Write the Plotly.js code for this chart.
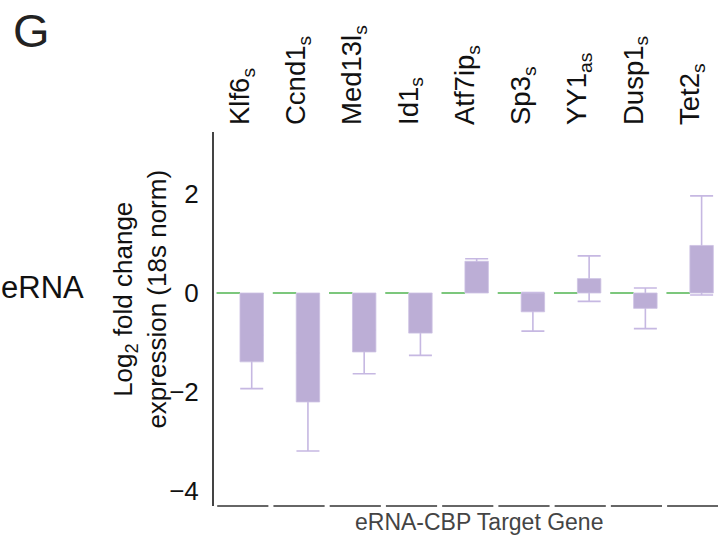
<!DOCTYPE html>
<html>
<head>
<meta charset="utf-8">
<script src="https://cdn.plot.ly/plotly-3.0.1.min.js"></script>
<style>html,body{margin:0;padding:0;background:#fff;}#chart{width:720px;height:535px;}</style>
</head>
<body>
<div id="chart"></div>
<script>
// ---- data ----
const genes = ['Klf6', 'Ccnd1', 'Med13l', 'Id1', 'Atf7ip', 'Sp3', 'YY1', 'Dusp1', 'Tet2'];
const strand = ['s', 's', 's', 's', 's', 's', 'as', 's', 's'];
const logFC = [-1.39, -2.20, -1.19, -0.81, 0.64, -0.38, 0.29, -0.31, 0.96];
const sem = [0.54, 0.99, 0.44, 0.45, 0.05, 0.39, 0.46, 0.41, 1.00];
const control = [0, 0, 0, 0, 0, 0, 0, 0, 0];
const yTicks = [-4, -2, 0, 2];

// ---- styles ----
const FONT = 'Liberation Sans, Arial, Helvetica, sans-serif';
const PURPLE = '#bcaed6';
const ERR = '#c6b8e2';
const GREEN = '#7cc77c';
const lineThick = 0.04;

const tickText = genes.map((g, i) => g + '<sub>' + strand[i] + '</sub>');

const traces = [
  {
    type: 'bar', x: genes, y: control.map(() => lineThick),
    base: control.map(v => v - lineThick / 2),
    offsetgroup: 'ctrl', marker: {color: GREEN, line: {width: 0}},
    hoverinfo: 'skip', showlegend: false
  },
  {
    type: 'bar', x: genes, y: logFC, offsetgroup: 'trt',
    marker: {color: 'rgba(0,0,0,0)', line: {width: 0}},
    error_y: {type: 'data', array: sem, visible: true, color: ERR, thickness: 1.6, width: 11.5},
    hoverinfo: 'skip', showlegend: false
  },
  {
    type: 'bar', x: genes, y: logFC, offsetgroup: 'trt',
    marker: {color: PURPLE, line: {width: 0.8, color: '#cdc1e3'}},
    showlegend: false
  }
];

// per-category baseline segments under the plot
const shapes = genes.map((g, i) => ({
  type: 'line', xref: 'x', yref: 'paper',
  x0: i - 0.405, x1: i + 0.505, y0: 0, y1: 0,
  line: {color: '#333', width: 1.5}
}));

const layout = {
  width: 720, height: 535,
  margin: {l: 214, r: 2, t: 132, b: 29},
  paper_bgcolor: '#fff', plot_bgcolor: '#fff',
  barmode: 'group', bargap: 0.166, bargroupgap: 0,
  showlegend: false,
  font: {family: FONT, color: '#111', size: 26},
  xaxis: {
    side: 'top', type: 'category',
    range: [-0.462, 8.5],
    tickvals: genes, ticktext: tickText,
    tickangle: -90, ticks: '', showline: false, showgrid: false, zeroline: false,
    tickfont: {family: FONT, size: 27.5, color: '#111'},
    ticklabelstandoff: 6
  },
  yaxis: {
    range: [-4.30, 3.25],
    tickvals: yTicks, ticktext: yTicks.map(v => (v < 0 ? '\u2212' + Math.abs(v) : String(v))),
    ticks: '', showgrid: false, zeroline: false,
    showline: true, linecolor: '#444', linewidth: 2,
    tickfont: {family: FONT, size: 26, color: '#111'},
    ticklabelstandoff: 8
  },
  shapes: shapes,
  annotations: [
    {text: 'G', xref: 'paper', yref: 'paper', x: -0.362, y: 1.272, showarrow: false,
     xanchor: 'center', yanchor: 'middle', font: {family: FONT, size: 47, color: '#222'}},
    {text: 'eRNA', xref: 'paper', yref: 'paper', x: -0.341, y: 0.585, showarrow: false,
     xanchor: 'center', yanchor: 'middle', font: {family: FONT, size: 31, color: '#111'}},
    {text: 'Log<sub>2</sub> fold change<br>expression (18s norm)', xref: 'paper', yref: 'paper',
     x: -0.146, y: 0.553, textangle: -90, showarrow: false,
     xanchor: 'center', yanchor: 'middle', font: {family: FONT, size: 26, color: '#111'}},
    {text: 'eRNA-CBP Target Gene', xref: 'paper', yref: 'paper', x: 0.526, y: -0.043,
     showarrow: false, xanchor: 'center', yanchor: 'middle',
     font: {family: FONT, size: 23, color: '#444'}}
  ]
};

Plotly.newPlot('chart', traces, layout, {displayModeBar: false, staticPlot: true});
</script>
</body>
</html>
